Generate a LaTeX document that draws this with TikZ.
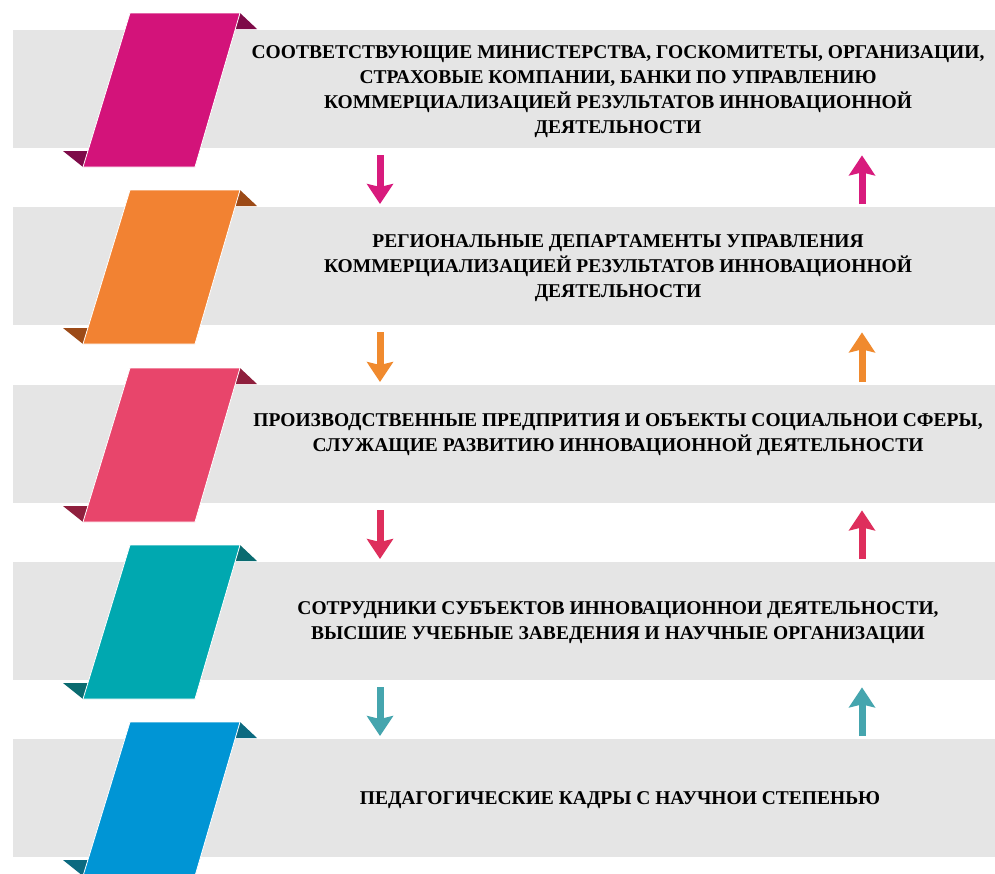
\documentclass[tikz,border=0pt]{standalone}
\usepackage{fontspec}
\newfontfamily\tnrb{Liberation Serif Bold}
\usetikzlibrary{arrows.meta,calc}
\definecolor{bandgray}{HTML}{E5E5E5}
\definecolor{cA}{HTML}{D3137A}\definecolor{dA}{HTML}{7E0B49}
\definecolor{cB}{HTML}{F28232}\definecolor{dB}{HTML}{9C4A17}
\definecolor{cC}{HTML}{E8456B}\definecolor{dC}{HTML}{8F1F3D}
\definecolor{cD}{HTML}{00A8B0}\definecolor{dD}{HTML}{0A6B70}
\definecolor{cE}{HTML}{0095D5}\definecolor{dE}{HTML}{0B6A80}
\definecolor{aA}{HTML}{D81B7D}
\definecolor{aB}{HTML}{F08A2E}
\definecolor{aC}{HTML}{DE2E5C}
\definecolor{aD}{HTML}{45A5AE}
\tikzset{
  band/.style={fill=bandgray, draw=none, minimum width=982pt, minimum height=118pt, anchor=north west, inner sep=0pt},
  txt/.style={align=center, font=\tnrb\fontsize{19.5}{25}\selectfont, text=black, inner sep=0pt},
  flow/.style={line width=7pt, -{Stealth[length=20pt,width=26pt,inset=3pt]}},
  ribbonbody/.style={draw=white, line width=0.8pt, line join=miter},
}
\begin{document}
\begin{tikzpicture}[x=1pt,y=-1pt]
\useasboundingbox (0,0) rectangle (995,873);
\fill[white] (0,0) rectangle (995,873);
\begin{scope}
\clip (0,0) rectangle (995,873);
% bands
\node[band] (b1) at (13,30) {};
\node[band] (b2) at (13,207) {};
\node[band] (b3) at (13,385) {};
\node[band] (b4) at (13,562) {};
\node[band] (b5) at (13,739) {};
% ribbons
\foreach \T/\c/\d in {30/cA/dA, 207/cB/dB, 385/cC/dC, 562/cD/dD, 739/cE/dE}{
  \fill[\d] (240,\T-17) -- (257,\T-1) -- (235,\T-1) -- cycle;
  \fill[\d] (83,\T+137) -- (63,\T+121) -- (88,\T+121) -- cycle;
  \filldraw[fill=\c, ribbonbody] (130,\T-17) -- (240,\T-17) -- (195,\T+137) -- (83,\T+137) -- cycle;
}
\end{scope}
% texts
\node[txt] (t1) at ($(b1.west)+(605,2)$) {СООТВЕТСТВУЮЩИЕ МИНИСТЕРСТВА, ГОСКОМИТЕТЫ, ОРГАНИЗАЦИИ,\\СТРАХОВЫЕ КОМПАНИИ, БАНКИ ПО УПРАВЛЕНИЮ\\КОММЕРЦИАЛИЗАЦИЕЙ РЕЗУЛЬТАТОВ ИННОВАЦИОННОЙ\\ДЕЯТЕЛЬНОСТИ};
\node[txt] (t2) at ($(b2.west)+(605,2)$) {РЕГИОНАЛЬНЫЕ ДЕПАРТАМЕНТЫ УПРАВЛЕНИЯ\\КОММЕРЦИАЛИЗАЦИЕЙ РЕЗУЛЬТАТОВ ИННОВАЦИОННОЙ\\ДЕЯТЕЛЬНОСТИ};
\node[txt] (t3) at ($(b3.west)+(605,-10)$) {ПРОИЗВОДСТВЕННЫЕ ПРЕДПРИТИЯ И ОБЪЕКТЫ СОЦИАЛЬНОИ СФЕРЫ,\\СЛУЖАЩИЕ РАЗВИТИЮ ИННОВАЦИОННОЙ ДЕЯТЕЛЬНОСТИ};
\node[txt] (t4) at ($(b4.west)+(605,1)$) {СОТРУДНИКИ СУБЪЕКТОВ ИННОВАЦИОННОИ ДЕЯТЕЛЬНОСТИ,\\ВЫСШИЕ УЧЕБНЫЕ ЗАВЕДЕНИЯ И НАУЧНЫЕ ОРГАНИЗАЦИИ};
\node[txt] (t5) at ($(b5.west)+(607,2)$) {ПЕДАГОГИЧЕСКИЕ КАДРЫ С НАУЧНОИ СТЕПЕНЬЮ};
% arrows
\foreach \u/\l/\a in {b1/b2/aA, b2/b3/aB, b3/b4/aC, b4/b5/aD}{
  \draw[flow, \a] ($(\u.south west)+(367,7)$) -- ($(\l.north west)+(367,-3)$);
  \draw[flow, \a] ($(\l.north west)+(849,-3)$) -- ($(\u.south west)+(849,7)$);
}
\end{tikzpicture}
\end{document}
